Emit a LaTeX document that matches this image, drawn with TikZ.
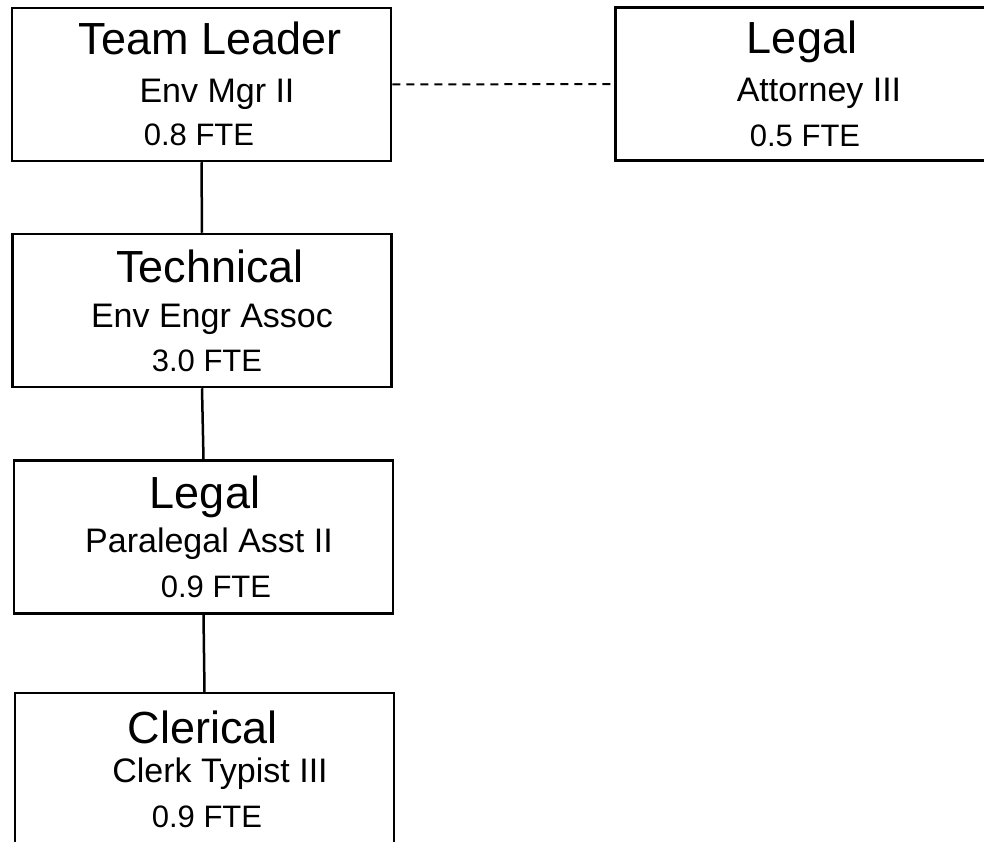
\documentclass[tikz,border=0pt]{standalone}
\usepackage{fontspec}
\setmainfont{Liberation Sans}
\usepackage{tikz}

\begin{document}
\begin{tikzpicture}[x=1pt,y=-1pt,
    unitbox/.style={draw,line width=2.5pt,rectangle,inner sep=0pt,
                    minimum width=379pt,minimum height=153pt},
    ttl/.style={anchor=base,inner sep=0pt,font=\fontsize{45}{50}\selectfont},
    job/.style={anchor=base,inner sep=0pt,font=\fontsize{34}{40}\selectfont},
    fte/.style={anchor=base,inner sep=0pt,font=\fontsize{31}{36}\selectfont},
    link/.style={line width=2.5pt}]

  % Page frame, the scan cuts the right and bottom boxes
  \useasboundingbox (0,0) rectangle (984,842);
  \fill[white] (0,0) rectangle (984,842);
  \clip (0,0) rectangle (984,842);

  % --- Boxes ---
  \node[unitbox] (lead)  at (201.5, 84.5) {};
  \node[unitbox] (atty)  at (805,   84)   {};
  \node[unitbox] (tech)  at (202,  310.5) {};
  \node[unitbox] (para)  at (203.5,537)   {};
  \node[unitbox] (clerk) at (204.5,769.5) {};

  % --- Box texts ---
  \node[ttl] (leadT) at (210, 55) {Team Leader};
  \node[job] (leadS) at (217,103) {Env Mgr II};
  \node[fte] (leadF) at (199,146) {0.8 FTE};

  \node[ttl] (attyT) at (802, 54) {Legal};
  \node[job] (attyS) at (819,102) {Attorney III};
  \node[fte] (attyF) at (805,147) {0.5 FTE};

  \node[ttl] (techT) at (210,282) {Technical};
  \node[job] (techS) at (212,327) {Env Engr Assoc};
  \node[fte] (techF) at (207,371) {3.0 FTE};

  \node[ttl] (paraT) at (205,508) {Legal};
  \node[job] (paraS) at (209,552) {Paralegal Asst II};
  \node[fte] (paraF) at (216,597) {0.9 FTE};

  \node[ttl] (clerkT) at (203,743) {Clerical};
  \node[job] (clerkS) at (220,782) {Clerk Typist III};
  \node[fte] (clerkF) at (207,827) {0.9 FTE};

  % --- Reporting lines ---
  \draw[link] (lead.south) -- (tech.north);
  \draw[link] (tech.south) -- (para.north);
  \draw[link] (para.south) -- (clerk.north);
  \draw[link,line width=2pt,dash pattern=on 8pt off 6pt] (lead.east) -- (atty.west);

\end{tikzpicture}
\end{document}
